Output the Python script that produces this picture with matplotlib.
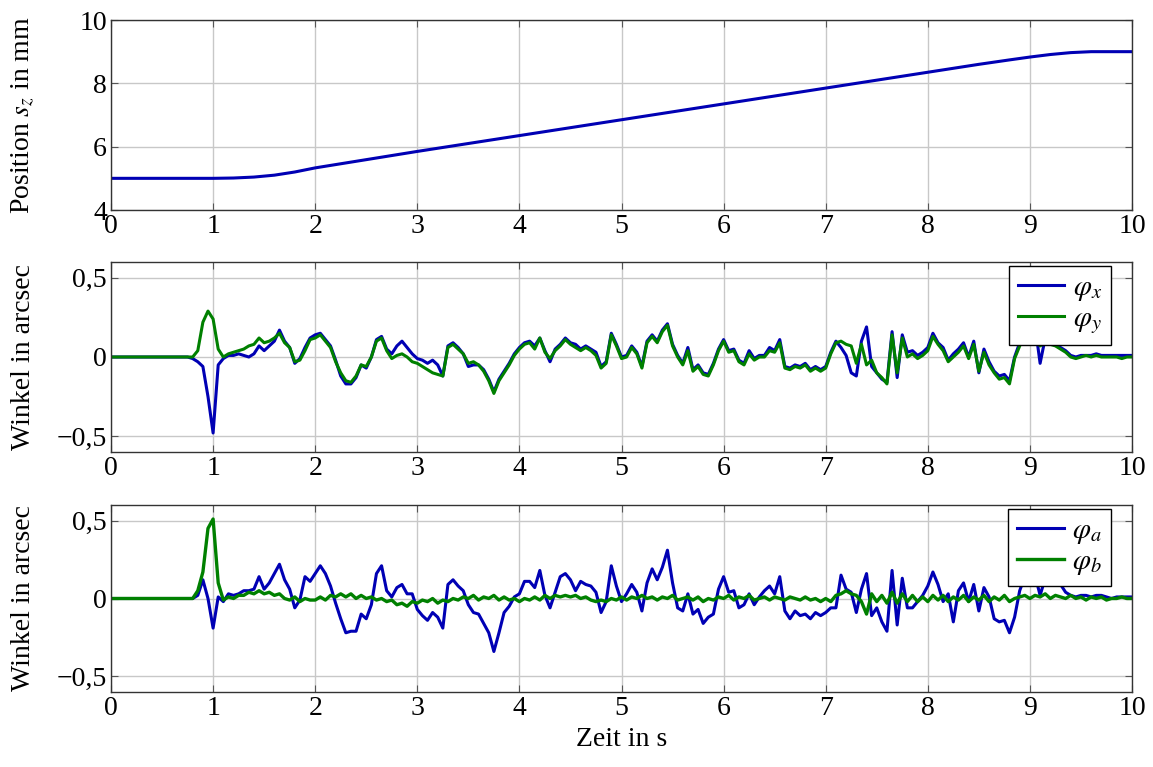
import numpy as np
import matplotlib
matplotlib.use("Agg")
import matplotlib.pyplot as plt

plt.rcParams['font.family'] = ['Liberation Serif', 'DejaVu Serif']
plt.rcParams['mathtext.fontset'] = 'stix'

# time grid of the angle signals (0.05 s steps)
t_angle = np.arange(201) * 0.05

# position s_z in mm
t_pos = [0, 1.0, 1.2, 1.4, 1.6, 1.8, 2.0, 2.5, 3, 4, 5, 6, 7, 8, 8.5, 8.8, 9.0, 9.2, 9.4, 9.6, 10]
s_z = [5.0, 5.0, 5.01, 5.04, 5.10, 5.20, 5.33, 5.59, 5.85, 6.35, 6.85, 7.35, 7.85, 8.35, 8.60,
       8.74, 8.83, 8.91, 8.97, 9.0, 9.0]

phi_x = [
    0, 0, 0, 0, 0, 0, 0, 0, 0, 0,
    0, 0, 0, 0, 0, 0, -0.01, -0.03, -0.06, -0.25,
    -0.48, -0.05, -0.01, 0.01, 0.01, 0.02, 0.01, 0.0, 0.02, 0.07,
    0.04, 0.07, 0.10, 0.17, 0.10, 0.06, -0.04, -0.01, 0.06, 0.12,
    0.14, 0.15, 0.11, 0.07, -0.02, -0.12, -0.17, -0.17, -0.13, -0.05,
    -0.07, 0.0, 0.11, 0.13, 0.05, 0.02, 0.07, 0.10, 0.06, 0.02,
    -0.01, -0.02, -0.04, -0.02, -0.05, -0.12, 0.07, 0.09, 0.06, 0.02,
    -0.06, -0.05, -0.05, -0.08, -0.14, -0.22, -0.14, -0.09, -0.04, 0.02,
    0.06, 0.09, 0.10, 0.07, 0.12, 0.04, -0.03, 0.05, 0.08, 0.12,
    0.09, 0.08, 0.05, 0.07, 0.05, 0.03, -0.06, -0.03, 0.15, 0.08,
    0.0, 0.01, 0.07, 0.03, -0.06, 0.10, 0.14, 0.10, 0.17, 0.21,
    0.08, 0.01, -0.04, 0.06, -0.08, -0.05, -0.10, -0.11, -0.04, 0.05,
    0.11, 0.04, 0.05, -0.02, -0.04, 0.04, -0.01, 0.01, 0.01, 0.06,
    0.04, 0.11, -0.06, -0.07, -0.05, -0.06, -0.04, -0.08, -0.06, -0.08,
    -0.06, 0.03, 0.10, 0.06, 0.01, -0.10, -0.12, 0.10, 0.19, -0.06,
    -0.10, -0.14, -0.16, 0.16, -0.13, 0.14, 0.03, 0.04, 0.01, 0.03,
    0.06, 0.15, 0.09, 0.06, -0.02, 0.02, 0.05, 0.09, 0.0, 0.10,
    -0.10, 0.05, -0.03, -0.09, -0.12, -0.11, -0.15, 0.0, 0.09, 0.15,
    0.14, 0.20, -0.04, 0.12, 0.10, 0.08, 0.06, 0.04, 0.01, 0.0,
    0.01, 0.01, 0.01, 0.02, 0.01, 0.01, 0.01, 0.01, 0.01, 0.01,
    0.01]

phi_y = [
    0, 0, 0, 0, 0, 0, 0, 0, 0, 0,
    0, 0, 0, 0, 0, 0, 0.0, 0.04, 0.22, 0.29,
    0.24, 0.05, 0.0, 0.02, 0.03, 0.04, 0.05, 0.07, 0.08, 0.12,
    0.09, 0.10, 0.12, 0.15, 0.09, 0.06, -0.03, -0.02, 0.04, 0.11,
    0.12, 0.14, 0.10, 0.06, -0.03, -0.10, -0.15, -0.16, -0.12, -0.05,
    -0.06, 0.0, 0.10, 0.12, 0.04, -0.01, 0.01, 0.02, 0.0, -0.03,
    -0.04, -0.06, -0.08, -0.10, -0.11, -0.12, 0.06, 0.08, 0.05, 0.02,
    -0.04, -0.03, -0.05, -0.09, -0.15, -0.23, -0.15, -0.10, -0.05, 0.01,
    0.05, 0.08, 0.09, 0.05, 0.12, 0.03, -0.01, 0.04, 0.07, 0.11,
    0.08, 0.06, 0.04, 0.06, 0.04, 0.01, -0.07, -0.04, 0.14, 0.07,
    -0.01, 0.0, 0.06, 0.02, -0.07, 0.09, 0.13, 0.09, 0.16, 0.20,
    0.07, 0.0, -0.05, 0.04, -0.09, -0.06, -0.11, -0.12, -0.05, 0.04,
    0.10, 0.03, 0.04, -0.03, -0.05, 0.02, -0.02, 0.0, 0.0, 0.04,
    0.03, 0.09, -0.07, -0.08, -0.06, -0.07, -0.05, -0.09, -0.07, -0.09,
    -0.07, 0.02, 0.09, 0.10, 0.08, 0.07, -0.04, 0.08, -0.05, -0.02,
    -0.10, -0.13, -0.17, 0.14, -0.10, 0.12, 0.0, 0.02, -0.01, 0.01,
    0.04, 0.13, 0.08, 0.04, -0.03, 0.0, 0.03, 0.07, -0.01, 0.08,
    -0.09, 0.03, -0.05, -0.10, -0.14, -0.13, -0.17, -0.01, 0.07, 0.13,
    0.12, 0.15, 0.07, 0.09, 0.08, 0.07, 0.05, 0.03, 0.0, -0.01,
    0.0, 0.01, 0.0, 0.01, 0.0, 0.0, 0.0, 0.0, -0.01, 0.0,
    0.0]

phi_a = [
    0, 0, 0, 0, 0, 0, 0, 0, 0, 0,
    0, 0, 0, 0, 0, 0, 0.0, 0.02, 0.12, 0.0,
    -0.19, 0.01, -0.02, 0.03, 0.02, 0.03, 0.05, 0.05, 0.06, 0.14,
    0.06, 0.10, 0.16, 0.22, 0.12, 0.06, -0.06, -0.01, 0.14, 0.11,
    0.16, 0.21, 0.16, 0.08, -0.03, -0.13, -0.22, -0.21, -0.21, -0.10,
    -0.13, -0.04, 0.16, 0.21, 0.05, 0.01, 0.07, 0.09, 0.03, 0.03,
    -0.07, -0.11, -0.14, -0.09, -0.12, -0.19, 0.09, 0.12, 0.08, 0.05,
    -0.04, -0.09, -0.10, -0.16, -0.22, -0.34, -0.22, -0.09, -0.05, 0.01,
    0.03, 0.11, 0.11, 0.07, 0.18, 0.02, -0.06, 0.04, 0.14, 0.16,
    0.12, 0.05, 0.11, 0.09, 0.08, 0.04, -0.09, -0.02, 0.21, 0.08,
    -0.02, 0.03, 0.09, 0.04, -0.08, 0.10, 0.19, 0.12, 0.20, 0.31,
    0.10, -0.06, -0.08, 0.03, -0.10, -0.07, -0.16, -0.12, -0.10, 0.06,
    0.14, 0.04, 0.05, -0.06, -0.04, 0.03, -0.04, 0.01, 0.05, 0.08,
    0.03, 0.14, -0.08, -0.13, -0.08, -0.11, -0.10, -0.13, -0.09, -0.11,
    -0.09, -0.06, -0.06, 0.15, 0.06, 0.04, -0.09, 0.06, 0.16, -0.11,
    -0.06, -0.15, -0.21, 0.18, -0.17, 0.13, -0.06, -0.06, -0.02, 0.02,
    0.08, 0.17, 0.09, -0.02, 0.03, -0.15, 0.05, 0.10, -0.02, 0.09,
    -0.08, 0.07, 0.01, -0.13, -0.15, -0.14, -0.22, -0.12, 0.05, 0.14,
    0.18, 0.15, 0.02, 0.13, 0.15, 0.11, 0.09, 0.04, 0.02, 0.01,
    0.02, 0.02, 0.01, 0.02, 0.02, 0.01, 0.0, 0.01, 0.01, 0.01,
    0.01]

phi_b = [
    0, 0, 0, 0, 0, 0, 0, 0, 0, 0,
    0, 0, 0, 0, 0, 0, 0.0, 0.05, 0.17, 0.45,
    0.51, 0.10, -0.01, 0.01, 0.0, 0.02, 0.02, 0.04, 0.03, 0.05,
    0.03, 0.04, 0.02, 0.03, 0.0, -0.01, 0.01, -0.02, 0.0, -0.01,
    -0.01, 0.01, -0.01, 0.02, 0.01, 0.03, 0.01, 0.03, 0.0, 0.02,
    0.0, 0.01, -0.01, 0.0, -0.02, -0.01, -0.04, -0.03, -0.05, -0.02,
    -0.03, -0.01, -0.02, 0.0, -0.03, -0.01, -0.02, 0.0, -0.01, 0.01,
    0.0, 0.02, -0.01, 0.01, 0.0, 0.02, -0.01, 0.01, -0.01, 0.0,
    -0.02, 0.0, -0.01, 0.01, -0.01, 0.02, 0.0, 0.02, 0.01, 0.02,
    0.01, 0.02, 0.0, 0.01, -0.01, -0.02, -0.01, -0.02, 0.0, -0.01,
    0.01, -0.01, 0.01, 0.0, 0.02, 0.0, 0.01, -0.01, 0.01, 0.0,
    0.02, -0.01, 0.0, 0.01, -0.01, 0.01, -0.02, 0.0, -0.01, 0.01,
    0.0, 0.02, -0.01, 0.01, 0.0, 0.02, -0.01, 0.0, 0.01, -0.01,
    0.01, 0.0, -0.01, 0.01, 0.0, -0.01, 0.01, -0.01, 0.0, -0.02,
    0.0, -0.02, 0.02, 0.03, 0.05, 0.03, 0.02, -0.02, -0.10, 0.03,
    -0.02, 0.02, -0.03, 0.04, -0.03, 0.03, -0.02, 0.02, -0.02, 0.01,
    -0.02, 0.02, -0.01, 0.02, -0.02, 0.01, -0.01, 0.02, -0.02, 0.01,
    -0.01, 0.02, -0.02, 0.01, -0.01, 0.02, -0.02, 0.0, 0.01, 0.02,
    0.0, 0.02, 0.01, 0.03, 0.0, 0.02, 0.01, 0.0, 0.02, 0.0,
    0.01, -0.01, 0.01, 0.0, 0.01, -0.01, 0.0, 0.0, 0.01, 0.0,
    0.0]

blue = '#0000b4'
green = '#008000'
W, H = 1153, 767

fig = plt.figure(figsize=(W / 100, H / 100), dpi=100)
left, right = 111 / W, 1132 / W


def make_ax(top_px, bot_px):
    ax = fig.add_axes([left, 1 - bot_px / H, right - left, (bot_px - top_px) / H])
    ax.set_xlim(0, 10)
    ax.set_xticks(range(11))
    ax.grid(True, color='#c8c8c8', lw=1.0)
    ax.set_axisbelow(True)
    ax.tick_params(direction='in', top=True, right=True, labelsize=20, length=5,
                   color='#555555', pad=3)
    for sp in ax.spines.values():
        sp.set_color('#333333')
        sp.set_linewidth(1.0)
    return ax


ax1 = make_ax(20, 210)
ax1.plot(t_pos, s_z, color=blue, lw=2.2)
ax1.set_ylim(4, 10)
ax1.set_yticks([4, 6, 8, 10])
ax1.set_ylabel('Position $s_z$ in mm', fontsize=20)

ax2 = make_ax(262, 452)
ax2.plot(t_angle, phi_x, color=blue, lw=2.2, label=r'$\varphi_x$')
ax2.plot(t_angle, phi_y, color=green, lw=2.2, label=r'$\varphi_y$')
ax2.set_ylabel('Winkel in arcsec', fontsize=20)

ax3 = make_ax(505, 692)
ax3.plot(t_angle, phi_a, color=blue, lw=2.2, label=r'$\varphi_a$')
ax3.plot(t_angle, phi_b, color=green, lw=2.4, label=r'$\varphi_b$')
ax3.set_ylabel('Winkel in arcsec', fontsize=20)
ax3.set_xlabel('Zeit in s', fontsize=20, labelpad=4)

for ax in (ax2, ax3):
    ax.set_ylim(-0.6, 0.6)
    ax.set_yticks([-0.5, 0, 0.5])
    ax.set_yticklabels(['\u22120,5', '0', '0,5'])
    leg = ax.legend(loc='upper right', bbox_to_anchor=(1 - 21 / 1021, 1 - 4 / 190),
                    borderaxespad=0, fontsize=21, fancybox=False, framealpha=1,
                    edgecolor='black', handlelength=1.6, labelspacing=0.1,
                    borderpad=0.3, handletextpad=0.3)
    leg.get_frame().set_linewidth(1.0)

for ax in (ax1, ax2, ax3):
    ax.yaxis.set_label_coords(-0.073, 0.5)

fig.savefig('out.png', dpi=100)
